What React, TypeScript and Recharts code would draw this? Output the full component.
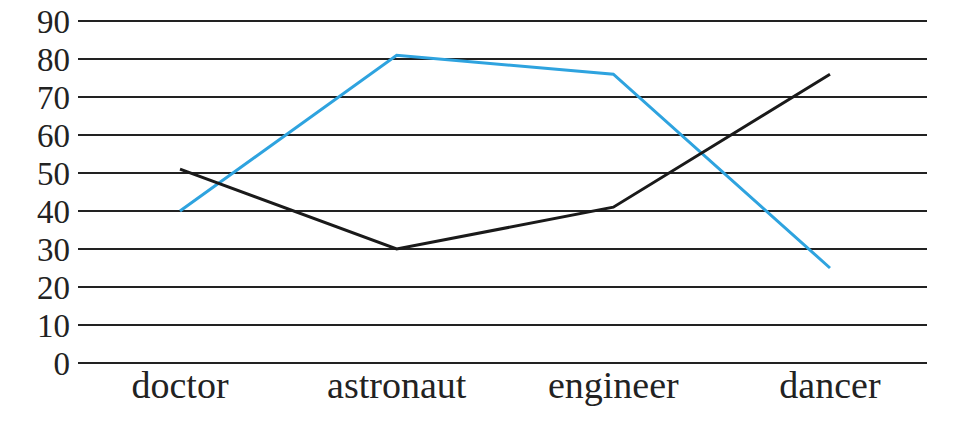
import { LineChart, Line, XAxis, YAxis, CartesianGrid } from "recharts";

const jobs = ["doctor", "astronaut", "engineer", "dancer"];
const blueValues = [40, 81, 76, 25];
const blackValues = [51, 30, 41, 76];
const yTicks = [0, 10, 20, 30, 40, 50, 60, 70, 80, 90];

const data = jobs.map((job, i) => ({
  job,
  blue: blueValues[i],
  black: blackValues[i],
}));

const font = '"Liberation Serif", "DejaVu Serif", serif';

export default function App() {
  return (
    <div style={{ position: "fixed", top: 0, left: 0, background: "#fff" }}>
      <LineChart
        width={960}
        height={441}
        data={data}
        margin={{ top: 21, right: 33, bottom: 0, left: 0 }}
      >
        <CartesianGrid vertical={false} stroke="#222" strokeWidth={2} />
        <XAxis
          dataKey="job"
          height={78}
          axisLine={false}
          tickLine={false}
          padding={{ left: 102, right: 97 }}
          tick={{ fontSize: 38, fontFamily: font, fill: "#222" }}
          tickMargin={2}
        />
        <YAxis
          domain={[0, 90]}
          ticks={yTicks}
          width={78}
          axisLine={false}
          tickLine={false}
          tickMargin={2}
          tick={{ fontSize: 33, fontFamily: font, fill: "#222" }}
          interval={0}
        />
        <Line
          dataKey="blue"
          stroke="#2ea3df"
          strokeWidth={3}
          dot={false}
          isAnimationActive={false}
        />
        <Line
          dataKey="black"
          stroke="#1a1a1a"
          strokeWidth={3}
          dot={false}
          isAnimationActive={false}
        />
      </LineChart>
    </div>
  );
}
